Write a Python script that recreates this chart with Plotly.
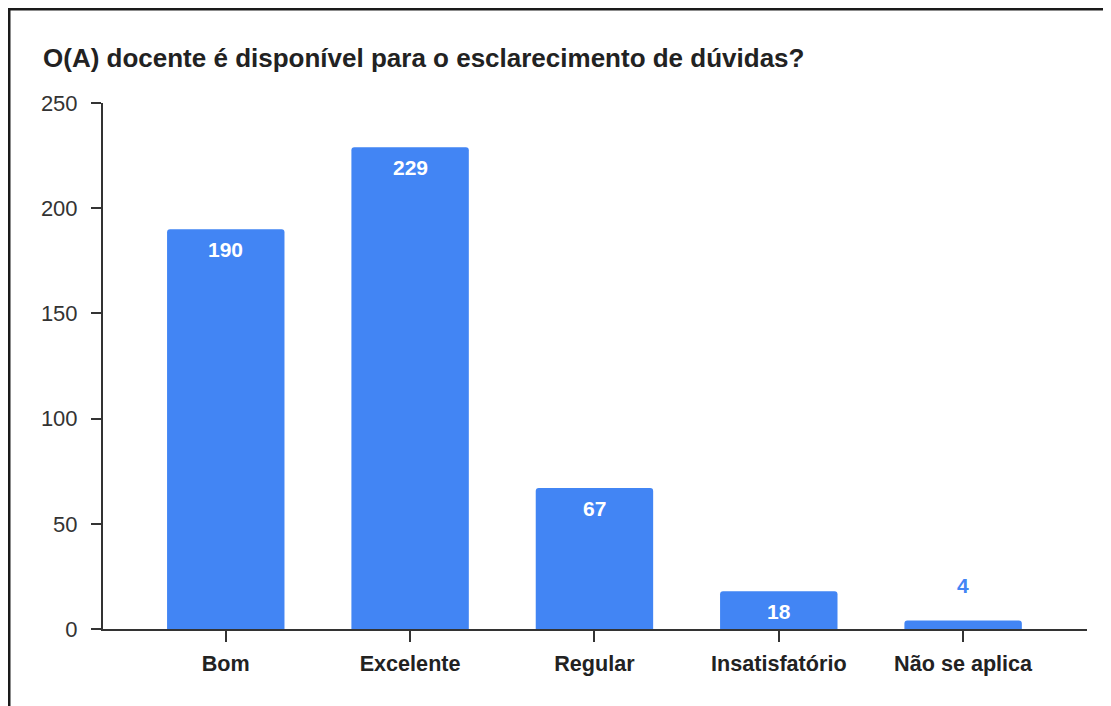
import plotly.graph_objects as go

categories = ["Bom", "Excelente", "Regular", "Insatisfatório", "Não se aplica"]
values = [190, 229, 67, 18, 4]
y_ticks = [0, 50, 100, 150, 200, 250]
title_text = "O(A) docente é disponível para o esclarecimento de dúvidas?"

BLUE = "#4285F4"
AXIS = "#333333"
FONT = "Liberation Sans, Arial, sans-serif"

OFF = 8  # default page body margin
W, H = 1111 - OFF, 706 - OFF
L, T = 103 - OFF, 103 - OFF
pw, ph = 984, 526
R, B = W - L - pw, H - T - ph

fig = go.Figure()
fig.add_trace(go.Bar(
    x=list(range(len(categories))), y=values,
    marker=dict(color=BLUE, line=dict(width=0)),
    width=0.637, hoverinfo="x+y", showlegend=False,
))

annotations = []
for i, v in enumerate(values):
    inside = v > 10
    annotations.append(dict(
        x=i, y=v, xref="x", yref="y", text=f"<b>{v}</b>", showarrow=False,
        yanchor="middle", yshift=-20 if inside else 35,
        font=dict(family=FONT, size=21, color="white" if inside else BLUE),
    ))

# frame lines (left and top), given in figure pixels
def px_x(p):
    return (p - L) / pw

def px_y(p):
    return (H - B - p) / ph

shapes = [
    dict(type="line", xref="paper", yref="paper", x0=px_x(1), x1=px_x(1),
         y0=px_y(H + 5), y1=px_y(0), line=dict(color="#1a1a1a", width=3)),
    dict(type="line", xref="paper", yref="paper", x0=px_x(0), x1=px_x(W + 5),
         y0=px_y(1), y1=px_y(1), line=dict(color="#1a1a1a", width=3)),
]

xr = [-0.666, 4.672]
fig.update_layout(
    width=W, height=H,
    margin=dict(l=L, r=R, t=T, b=B),
    paper_bgcolor="white", plot_bgcolor="white",
    font=dict(family=FONT, color="#222222"),
    title=dict(text=f"<b>{title_text}</b>", xref="container", yref="container",
               x=(43 - OFF) / W, xanchor="left", y=1 - (58 - OFF) / H, yanchor="middle",
               font=dict(family=FONT, size=26, color="#222222")),
    xaxis=dict(range=xr, tickmode="array", tickvals=list(range(len(categories))),
               ticktext=[f"<b>{c}</b>" for c in categories],
               showgrid=False, zeroline=False, showline=True, linecolor=AXIS, linewidth=2,
               ticks="outside", ticklen=11, tickwidth=2, tickcolor=AXIS,
               ticklabelstandoff=3,
               tickfont=dict(family=FONT, size=21.6, color="#222222"), fixedrange=True),
    xaxis2=dict(range=xr, overlaying="x", anchor="y", side="bottom",
                tickmode="array", tickvals=list(range(len(categories))),
                showticklabels=False, showgrid=False, zeroline=False, showline=False,
                ticks="inside", ticklen=11, tickwidth=2, tickcolor=AXIS),
    yaxis=dict(range=[0, 250], tickmode="array", tickvals=y_ticks,
               showgrid=False, zeroline=False, showline=True, linecolor=AXIS, linewidth=2,
               ticks="outside", ticklen=10, tickwidth=2, tickcolor=AXIS,
               ticklabelstandoff=9,
               tickfont=dict(family=FONT, size=22, color="#333333"), fixedrange=True),
    yaxis2=dict(range=[0, 250], overlaying="y", anchor="x", side="left",
                tickmode="array", tickvals=y_ticks,
                showticklabels=False, showgrid=False, zeroline=False, showline=False,
                ticks="inside", ticklen=10, tickwidth=2, tickcolor=AXIS),
    barcornerradius=3,
    annotations=annotations,
    shapes=shapes,
)

fig.write_html("out.html")
